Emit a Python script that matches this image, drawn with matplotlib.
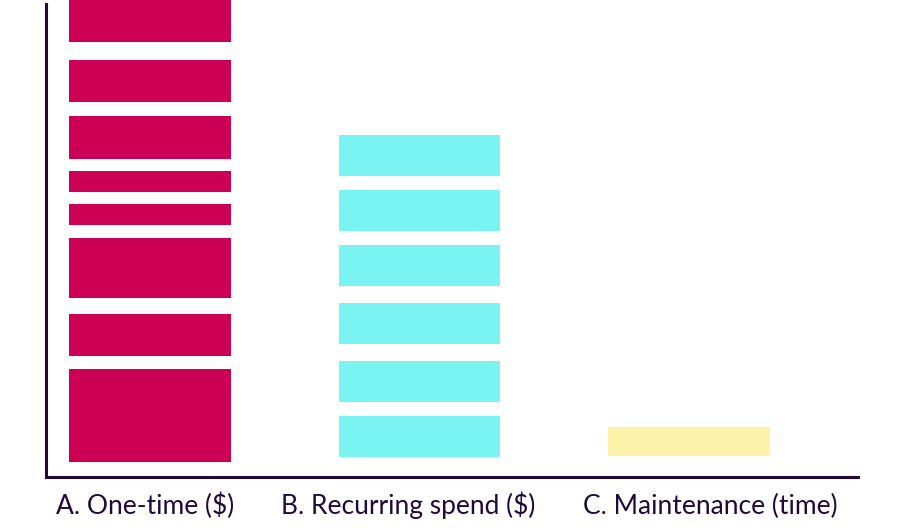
import matplotlib
matplotlib.use("Agg")
import matplotlib.pyplot as plt

# ---- data ----
categories = ["A. One-time ($)", "B. Recurring spend ($)", "C. Maintenance (time)"]
colors = ["#CC0055", "#79F4F3", "#FDF2A9"]
# each category is a column of separated blocks: (bottom, top) in chart units
seg_bottoms = [
    [3.1, 25.4, 37.7, 53.2, 60.2, 67.3, 79.3, 91.9],
    [4.1, 15.8, 28.1, 40.4, 52.0, 63.7],
    [4.4],
]
seg_tops = [
    [22.7, 34.3, 50.4, 57.7, 64.7, 76.2, 88.1, 102.0],
    [12.9, 24.5, 36.8, 49.1, 60.7, 72.3],
    [10.4],
]
label_centers_px = [145.5, 408, 710]

W, H = 899, 528
fig = plt.figure(figsize=(W / 100, H / 100), dpi=100)
ax = fig.add_axes([45.5 / W, (H - 476.5) / H, (857.7 - 45.5) / W, (476.5 - 4) / H])

for i, (bots, tops) in enumerate(zip(seg_bottoms, seg_tops)):
    heights = [t - b for b, t in zip(bots, tops)]
    ax.bar([i] * len(bots), heights, bottom=bots, width=0.601,
           color=colors[i], linewidth=0, clip_on=False)

ax.set_xlim(-0.3878, 2.626)
ax.set_ylim(0, 100)
ax.set_xticks([])
ax.set_yticks([])
for s in ["top", "right"]:
    ax.spines[s].set_visible(False)
for s in ["left", "bottom"]:
    ax.spines[s].set_color("#200A3C")
    ax.spines[s].set_linewidth(2.2)
    ax.spines[s].set_capstyle("projecting")

for lab, cx in zip(categories, label_centers_px):
    fig.text(cx / W, (H - 514) / H, lab, ha="center", va="baseline",
             fontsize=19, color="#200A3C", family=["Lato", "DejaVu Sans"])

fig.savefig("out.png", dpi=100)
